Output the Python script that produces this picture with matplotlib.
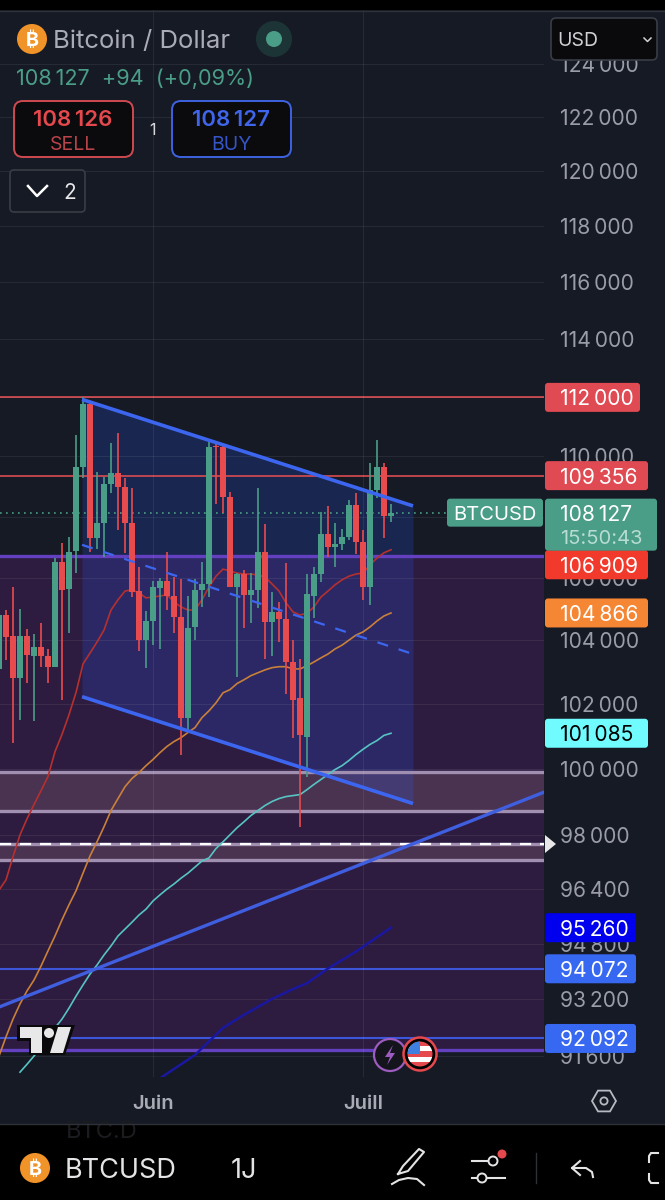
import numpy as np
import matplotlib
matplotlib.use("Agg")
from matplotlib import pyplot as plt
from matplotlib.patches import Circle, FancyBboxPatch, Polygon, Rectangle

plt.rcParams['font.family'] = ['Inter', 'DejaVu Sans']

# Daily candles, day 0 = 1 June
days = list(range(-22, 35))
opens = [103100, 104800, 104130, 102810, 104130, 103500, 103780, 103500, 103160, 106510, 105640, 106870,
         109650, 111760, 107300, 107790, 109080, 109450, 108980, 107790, 105570, 104000, 104610, 105670,
         105890, 105410, 104740, 101570, 104420, 105610, 105800, 110360, 110320, 108650, 105700, 106120,
         105450, 105610, 106840, 104580, 104900, 104670, 103310, 102190, 100980, 105410, 106120, 107430,
         107000, 107100, 107330, 108380, 107170, 105700, 108880, 109650, 108020]
highs = [104950, 104960, 105700, 105000, 104360, 104190, 104550, 103720, 106640, 107130, 107330, 110730,
         112000, 111830, 109480, 109310, 110460, 110800, 109280, 108950, 106350, 104930, 105890, 105990,
         106840, 106020, 105960, 105410, 105960, 106510, 110560, 110460, 110390, 108810, 106150, 106250,
         106150, 108950, 107750, 105540, 105220, 106480, 104000, 103410, 106120, 106350, 108150, 108350,
         107790, 107590, 108550, 108780, 107560, 109780, 110560, 109780, 108420]
lows = [101500, 103380, 100800, 101510, 102660, 101450, 103160, 102660, 103160, 102130, 104230, 106150,
        109280, 106840, 106940, 106680, 108780, 107560, 106810, 105380, 103660, 103130, 103840, 103720,
        104960, 104230, 100430, 101110, 104000, 105060, 105380, 108420, 108120, 105700, 102840, 104390,
        104550, 105030, 103410, 103500, 103940, 102310, 100950, 98240, 99730, 104710, 105860, 106680,
        106350, 106910, 107230, 106770, 105290, 105130, 108620, 107300, 107820]
closes = [104800, 104100, 102810, 104130, 103530, 103780, 103500, 103160, 106510, 105610, 106840, 109650,
          111760, 107300, 107790, 109080, 109450, 108980, 107790, 105540, 104000, 104610, 105700, 105890,
          105410, 104740, 101570, 104390, 105610, 105800, 110320, 110320, 108650, 105700, 106120, 105450,
          105610, 106840, 104580, 104900, 104670, 103310, 102130, 101020, 105480, 106120, 107430, 107000,
          107100, 107330, 108380, 107170, 105700, 108880, 109650, 108020, 108127]

# Moving averages
ma_red = [96360, 96660, 97350, 98000, 98480, 98910, 99330, 99760, 100520, 101050, 101660, 102350,
          103250, 103590, 103940, 104320, 104960, 105290, 105570, 105610, 105510, 105350, 105380, 105410,
          105450, 105220, 105060, 104960, 104960, 105290, 105700, 106050, 106280, 106220, 106150, 106120,
          106120, 106090, 106020, 105800, 105570, 105190, 104900, 104800, 104860, 105060, 105380, 105570,
          105770, 105930, 106050, 106120, 106150, 106420, 106640, 106810, 106909]
ma_orange = [91600, 92140, 92640, 93070, 93440, 93750, 94150, 94590, 95020, 95490, 95930, 96340,
             96860, 97370, 97790, 98240, 98730, 99090, 99450, 99700, 99880, 100090, 100280, 100490,
             100680, 100830, 100950, 101110, 101260, 101570, 101780, 102030, 102340, 102440, 102630, 102750,
             102880, 102970, 103060, 103130, 103160, 103160, 103090, 103090, 103190, 103310, 103440, 103560,
             103720, 103840, 104000, 104160, 104260, 104420, 104610, 104770, 104866]
cyan_days = list(range(-19, 35))
ma_cyan = [91150, 91370, 91600, 91850, 92110, 92390, 92640, 92950, 93290, 93610, 93920, 94180,
           94470, 94730, 95020, 95220, 95420, 95630, 95800, 96040, 96220, 96390, 96540, 96710,
           96860, 97040, 97220, 97310, 97590, 97790, 98000, 98210, 98390, 98580, 98730, 98880,
           99000, 99090, 99150, 99180, 99210, 99360, 99520, 99670, 99820, 99970, 100090, 100250,
           100430, 100590, 100740, 100860, 101020, 101085]
navy_days = [1, 6, 10, 13, 17, 20, 22, 25, 29, 34]
ma_navy = [90980, 91630, 92390, 92760, 93210, 93490, 93660, 94080, 94570, 95260]

# Drawings
channel_days = [-10.14, 37.14]
channel_top = [111930, 108350]
channel_mid = [107070, 103560]
channel_low = [102220, 98940]
trend_days = [-21.86, 55.7]
trend_prices = [92990, 99270]
zone_top = 106710
zone_bottom = 91770
band_upper = [98700, 99910]
band_lower = [97260, 97730]
last_price = 108127

price_ticks = [124000, 122000, 120000, 118000, 116000, 114000, 112000, 110000, 108000, 106000,
               104000, 102000, 100000, 98000, 96400, 94800, 93200, 91600]
month_ticks = [0, 30]
month_labels = ["Juin", "Juill"]

# (price, text colour, box colour, box right edge, pushed down by)
price_tags = [(112000, "white", "#e04a52", 640, 0), (109356, "white", "#e04a52", 648, 0),
              (106909, "white", "#f23a2c", 648, 15), (104866, "white", "#f58634", 648, 0),
              (101085, "black", "#70fbff", 648, 0), (95260, "white", "#0000ee", 636, 0),
              (94072, "white", "#3768f2", 636, 0), (92092, "white", "#3768f2", 636, 0)]

BG = "#161a25"
GREEN = "#4a9d87"
RED = "#e84b4d"
BLUE = "#3d66f0"


def fmt(v):
    return f"{v:,}".replace(",", "\u2009")


fig = plt.figure(figsize=(6.65, 12), dpi=100, facecolor=BG)
ax = fig.add_axes([0, 123 / 1200, 544 / 665, 1067 / 1200], facecolor=BG)
ax.set_yscale("log")
ax.set_xlim(-21.86, 55.86)
ax.set_ylim(91015, 126060)
for s in ax.spines.values():
    s.set_visible(False)

ax.yaxis.tick_right()
ax.set_yticks(price_ticks)
ax.set_yticklabels([fmt(t) for t in price_ticks])
ax.minorticks_off()
ax.set_xticks(month_ticks)
ax.set_xticklabels(month_labels, fontweight="semibold")
ax.tick_params(axis="y", length=0, pad=11.5, labelsize=15.2, labelcolor="#9a9ca6")
ax.tick_params(axis="x", length=0, pad=13, labelsize=14.5, labelcolor="#a9abb4")
ax.grid(True, color="white", alpha=0.07, lw=0.8, zorder=1.5)
ax.set_axisbelow(False)

# zones
ax.axhspan(zone_bottom, zone_top, color="#2d1c3f", lw=0, zorder=1)
ax.axhspan(band_upper[0], band_upper[1], color="#4a3350", lw=0, zorder=1.1)
ax.axhspan(band_lower[0], band_lower[1], color="#4a3350", lw=0, zorder=1.1)
ax.fill_between(channel_days, channel_low, channel_top, color="#2a5cff", alpha=0.2, lw=0, zorder=1.2)

# horizontal levels
for p in band_upper + band_lower:
    ax.axhline(p, color="#a08fb0", lw=2.4, zorder=2)
ax.axhline(band_lower[1], color="white", lw=1.6, ls=(0, (5, 4)), zorder=2.1)
for p in [zone_top, zone_bottom]:
    ax.axhline(p, color="#6240c0", lw=2.4, zorder=2)
for p in [94072, 92092]:
    ax.axhline(p, color="#3d55d8", lw=1.5, zorder=2)
for p in [112000, 109356]:
    ax.axhline(p, color="#d94c50", lw=1.2, zorder=2)
ax.hlines(last_price, -21.86, 42, color=GREEN, lw=1.2, ls=(0, (1, 2.6)), zorder=2)

# moving averages
ax.plot(days, ma_red, color="#b5302f", lw=1.2, zorder=3)
ax.plot(days, ma_orange, color="#c9803a", lw=1.2, zorder=3)
ax.plot(cyan_days, ma_cyan, color="#57c4c4", lw=1.2, zorder=3)
ax.plot(navy_days, ma_navy, color="#1a17a0", lw=1.8, zorder=3)

# candles
o = np.array(opens)
c = np.array(closes)
colors = [GREEN if b >= a else RED for a, b in zip(opens, closes)]
ax.vlines(days, lows, highs, colors=colors, lw=1.2, zorder=4)
ax.bar(days, np.maximum(np.abs(c - o), 25), bottom=np.minimum(o, c), width=0.8, color=colors, lw=0, zorder=4.1)

# channel and trend
ax.plot(channel_days, channel_top, color=BLUE, lw=2.6, solid_capstyle="butt", zorder=5)
ax.plot(channel_days, channel_low, color=BLUE, lw=2.6, solid_capstyle="butt", zorder=5)
ax.plot(channel_days, channel_mid, color=BLUE, lw=1.6, ls=(0, (5, 5)), zorder=5)
ax.plot(trend_days, trend_prices, color="#3f5fe0", lw=2.4, zorder=5)

# interface layer in image pixels
ui = fig.add_axes([0, 0, 1, 1], facecolor="none", zorder=5)
ui.set_xlim(0, 665)
ui.set_ylim(1200, 0)
ui.axis("off")


def price_y(p):
    return 1200 - ax.transData.transform((0, p))[1]


def box(x0, y0, x1, y1, face, edge="none", r=5, lw=1.2, z=2):
    ui.add_patch(FancyBboxPatch((x0 + r, y0 + r), x1 - x0 - 2 * r, y1 - y0 - 2 * r,
                                boxstyle=f"round,pad={r},rounding_size={r}",
                                fc=face, ec=edge, lw=lw, zorder=z))


def label(x, y, s, color="white", size=15.2, ha="left", weight="normal", z=3):
    ui.text(x, y, s, color=color, fontsize=size, ha=ha, va="center_baseline", fontweight=weight, zorder=z)


def coin(x, y, r):
    ui.add_patch(Circle((x, y), r, fc="#f0942a", ec="none", zorder=3))
    label(x, y, "\u20bf", size=r * 0.95, ha="center", weight="bold", z=4)


# top and bottom bars
ui.add_patch(Rectangle((0, 0), 665, 10, fc="black", ec="none"))
ui.plot([0, 665], [10.5, 10.5], color="#2e3138", lw=1)
ui.add_patch(Rectangle((0, 1124), 665, 76, fc="black", ec="none"))
ui.plot([0, 665], [1123.5, 1123.5], color="#2e3138", lw=1)
label(66, 1129, "BTC.D", color="#1b1c20", size=17, z=1.5)

# header
coin(32, 39, 15)
label(53, 39, "Bitcoin / Dollar", color="#a9abb6", size=18.5)
ui.add_patch(Circle((274, 39), 18, fc="#1d3436", ec="none"))
ui.add_patch(Circle((274, 39), 8, fc=GREEN, ec="none", zorder=3))
label(16, 77, f"{fmt(last_price)}  +94  (+0,09%)", color=GREEN, size=15.6)

box(14, 101, 133, 157, "#0b0b0e", "#cf4a50", r=9, lw=1.4)
label(73, 118, fmt(108126), color="#e5484d", size=16, ha="center", weight="semibold")
label(73, 143, "SELL", color="#b8434a", size=14, ha="center")
label(152, 129, "1", color="#d8d8dc", size=11.5, ha="center")
box(172, 101, 291, 157, "#0b0b0e", "#3d63e0", r=9, lw=1.4)
label(231, 118, fmt(108127), color="#3f66ea", size=16, ha="center", weight="semibold")
label(231, 143, "BUY", color="#3555c8", size=14, ha="center")

box(10, 170, 85, 212, BG, "#3a3d46", r=4, lw=1.2)
ui.plot([28, 37, 47], [186, 196, 186], color="white", lw=1.8, zorder=3)
label(70, 191, "2", color="#e8e8ea", size=15, ha="center")

box(551, 18, 657, 60, "#0a0a0c", "#3a3d46", r=5, lw=1.2)
label(578, 39, "USD", color="#d0d0d4", size=14, ha="center")
ui.plot([644, 647.5, 651], [38, 41.5, 38], color="#d0d0d4", lw=1.1, zorder=3)

# price tags
for p, tc, bc, right, shift in price_tags:
    y = price_y(p) + shift
    box(545, y - 14.5, right, y + 14.5, bc, r=3)
    label(560, y, fmt(p), color=tc)

y = price_y(last_price)
box(447, y - 14, 543, y + 14, GREEN, r=3)
label(495, y, "BTCUSD", size=14.5, ha="center")
box(545, y - 14, 657, y + 38, GREEN, r=3)
label(560, y, fmt(last_price))
label(560, y + 24, "15:50:43", color="#b8dcd2", size=14.5)

# white marker at the right of the chart
ui.add_patch(Polygon([[545, 835], [556, 844], [545, 853]], fc="#e8e8e8", ec="none", zorder=3))

# TradingView logo
ui.add_patch(Polygon([[17, 1025], [75, 1025], [65, 1055], [29, 1055], [29, 1041], [17, 1041]],
                     fc="#0a0a0c", ec="none", zorder=3))
ui.add_patch(Polygon([[20, 1027], [42, 1027], [42, 1053], [31, 1053], [31, 1038], [20, 1038]],
                     fc="#e8e8e8", ec="none", zorder=4))
ui.add_patch(Circle((49, 1033), 5, fc="#e8e8e8", ec="none", zorder=4))
ui.add_patch(Polygon([[58, 1027], [71, 1027], [63, 1053], [50, 1053]], fc="#e8e8e8", ec="none", zorder=4))

# event bubbles
ui.add_patch(Circle((390, 1055), 16, fc="#14141c", ec="#9c5cc0", lw=1.6, zorder=3))
ui.add_patch(Polygon([[393, 1045], [385, 1057], [390, 1057], [387, 1065], [395, 1053], [390, 1053]],
                     fc="#9c5cc0", ec="none", zorder=4))
ui.add_patch(Circle((420, 1054), 16.5, fc="black", ec="#e5484d", lw=1.8, zorder=4))
flag = Circle((420, 1054), 12.5, transform=ui.transData)
for i in range(5):
    r = Rectangle((405, 1041 + i * 5.2), 30, 5.2, fc="#e5484d" if i % 2 == 0 else "white", ec="none", zorder=5)
    ui.add_patch(r)
    r.set_clip_path(flag)
r = Rectangle((405, 1041), 15, 13, fc="#3f7fe0", ec="none", zorder=6)
ui.add_patch(r)
r.set_clip_path(flag)

# settings hexagon
ang = np.deg2rad(np.arange(0, 360, 60))
ui.add_patch(Polygon(np.c_[604 + 12 * np.cos(ang), 1101 + 12 * np.sin(ang)], fc="none", ec="#b8bac2", lw=1.3))
ui.add_patch(Circle((604, 1101), 3.6, fc="none", ec="#b8bac2", lw=1.3))

# bottom toolbar
coin(35, 1168, 15)
label(65, 1168, "BTCUSD", color="#e4e4e6", size=19.5)
label(231, 1168, "1J", color="#e4e4e6", size=19.5)
ui.plot([398, 408, 424, 419, 403, 398], [1174, 1171, 1152, 1149, 1166, 1174], color="#e4e4e6", lw=1.5)
ui.plot([392, 399, 408, 417, 424], [1184, 1180, 1178, 1179, 1185], color="#e4e4e6", lw=1.5)
ui.plot([472, 490], [1161, 1161], color="#e4e4e6", lw=1.5)
ui.plot([472, 476], [1178, 1178], color="#e4e4e6", lw=1.5)
ui.plot([488, 505], [1178, 1178], color="#e4e4e6", lw=1.5)
ui.add_patch(Circle((493, 1161), 4.5, fc="black", ec="#e4e4e6", lw=1.4, zorder=3))
ui.add_patch(Circle((482, 1178), 4.5, fc="black", ec="#e4e4e6", lw=1.4, zorder=3))
ui.add_patch(Circle((502, 1154), 4.5, fc="#e5484d", ec="none", zorder=4))
ui.plot([536, 536], [1153, 1183], color="#2e3138", lw=1)
ui.plot([580, 572, 580], [1161, 1168, 1175], color="#e4e4e6", lw=1.5)
ui.plot([572, 586, 592, 593], [1168, 1168, 1172, 1177], color="#e4e4e6", lw=1.5)
ui.plot([658, 651, 649, 649], [1153, 1153, 1156, 1162], color="#e4e4e6", lw=1.5)
ui.plot([658, 651, 649, 649], [1183, 1183, 1180, 1174], color="#e4e4e6", lw=1.5)

fig.savefig("out.png", dpi=100, facecolor=fig.get_facecolor())
